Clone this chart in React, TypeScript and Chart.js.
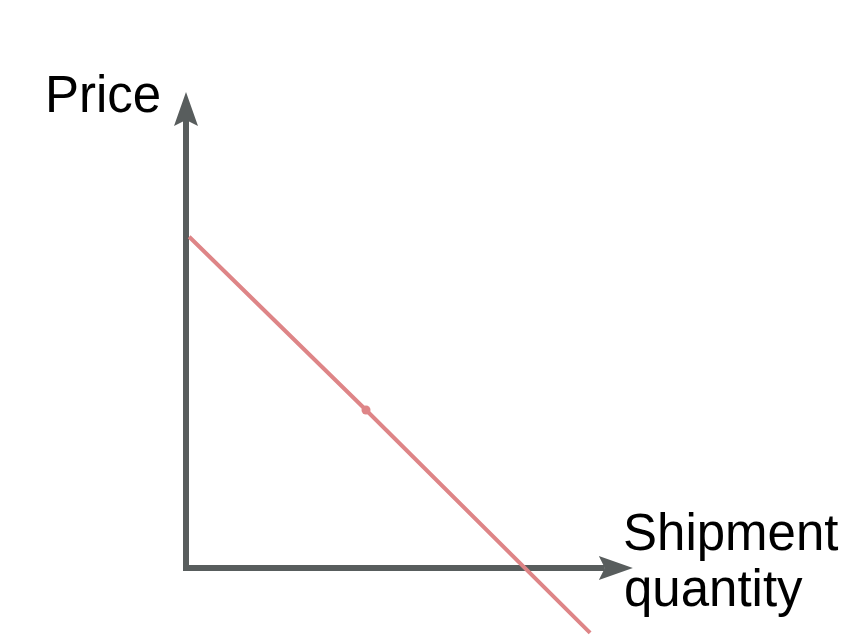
import React, { useEffect, useRef } from "react"
import { Chart, registerables, Plugin } from "chart.js"

Chart.register(...registerables)

// demand line (data units: origin at axis corner)
const lineX = [0.07, 4.0, 8.98]
const lineY = [7.36, 3.51, -1.44]
const pointSizes = [0, 4.5, 0]

// axis extents (tip of arrows)
const axisXEnd = 9.93
const axisYEnd = 10.58

const yLabel = ["Price"]
const xLabel = ["Shipment", "quantity"]

const AXIS_COLOR = "#585d5d"
const LINE_COLOR = "#de8587"

function arrowHead(ctx: CanvasRenderingContext2D, x: number, y: number, angle: number) {
  const len = 34
  const half = 12
  const notch = 6
  ctx.save()
  ctx.translate(x, y)
  ctx.rotate(angle)
  ctx.beginPath()
  ctx.moveTo(0, 0)
  ctx.lineTo(-len, -half)
  ctx.lineTo(-len + notch, 0)
  ctx.lineTo(-len, half)
  ctx.closePath()
  ctx.fill()
  ctx.restore()
}

const axesPlugin: Plugin = {
  id: "arrowAxes",
  beforeDatasetsDraw(chart) {
    const { ctx } = chart
    const xs = chart.scales.x
    const ys = chart.scales.y
    const x0 = xs.getPixelForValue(0)
    const y0 = ys.getPixelForValue(0)
    const xTip = xs.getPixelForValue(axisXEnd)
    const yTip = ys.getPixelForValue(axisYEnd)
    ctx.save()
    ctx.strokeStyle = AXIS_COLOR
    ctx.fillStyle = AXIS_COLOR
    ctx.lineWidth = 6
    ctx.lineCap = "butt"
    ctx.beginPath()
    ctx.moveTo(x0, y0 + 3)
    ctx.lineTo(x0, yTip + 28)
    ctx.moveTo(x0 - 3, y0)
    ctx.lineTo(xTip - 28, y0)
    ctx.stroke()
    arrowHead(ctx, x0, yTip, -Math.PI / 2)
    arrowHead(ctx, xTip, y0, 0)

    ctx.fillStyle = "#000"
    ctx.font = "51px 'Liberation Sans', Arial, sans-serif"
    ctx.textAlign = "left"
    ctx.textBaseline = "alphabetic"
    ctx.fillText(yLabel[0], 45, 112)
    ctx.fillText(xLabel[0], 623, 550)
    ctx.fillText(xLabel[1], 624, 606)
    ctx.restore()
  },
}

export default function App() {
  const canvasRef = useRef<HTMLCanvasElement>(null)
  const chartRef = useRef<Chart | null>(null)

  useEffect(() => {
    if (!canvasRef.current) return
    const ctx = canvasRef.current.getContext("2d")
    if (!ctx) return
    chartRef.current?.destroy()

    chartRef.current = new Chart(ctx, {
      type: "scatter",
      data: {
        datasets: [
          {
            data: lineX.map((x, i) => ({ x, y: lineY[i] })),
            showLine: true,
            borderColor: LINE_COLOR,
            borderWidth: 4,
            pointRadius: pointSizes,
            pointBackgroundColor: LINE_COLOR,
            pointBorderWidth: 0,
            clip: false,
          },
        ],
      },
      options: {
        animation: false,
        responsive: true,
        maintainAspectRatio: false,
        layout: { padding: { left: 186, right: 209, top: 118, bottom: 70 } },
        plugins: { legend: { display: false }, tooltip: { enabled: false } },
        events: [],
        scales: {
          x: { type: "linear", min: 0, max: 10, display: false },
          y: { type: "linear", min: 0, max: 10, display: false },
        },
      },
      plugins: [axesPlugin],
    })

    return () => {
      chartRef.current?.destroy()
      chartRef.current = null
    }
  }, [])

  return (
    <div style={{ position: "absolute", left: 0, top: 0, width: 845, height: 638, background: "#fff" }}>
      <canvas ref={canvasRef} />
    </div>
  )
}
